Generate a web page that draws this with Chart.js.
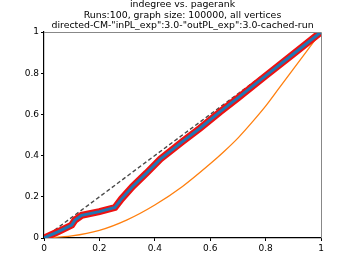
<!DOCTYPE html>
<html lang="en">
<head>
    <meta charset="UTF-8">
    <title>indegree vs. pagerank</title>
    <script src="https://cdn.jsdelivr.net/npm/chart.js"></script>
    <style>
        body { margin: 0; background: #fff; }
        #wrap { width: 357px; height: 268px; }
    </style>
</head>
<body>
    <div id="wrap"><canvas id="c"></canvas></div>
    <script>
        // values
        const titleLines = [
            "indegree vs. pagerank",
            "Runs:100, graph size: 100000, all vertices",
            "directed-CM-\"inPL_exp\":3.0-\"outPL_exp\":3.0-cached-run"
        ];
        const diagX = [0, 1];
        const diagY = [0, 1];
        const bandX = [0, 0.05, 0.1, 0.112, 0.136, 0.2, 0.256, 0.28, 0.32, 0.37, 0.42, 0.5, 0.563, 0.635, 0.7, 0.8, 0.9, 1];
        const bandY = [0, 0.03, 0.063, 0.087, 0.11, 0.128, 0.148, 0.19, 0.25, 0.315, 0.383, 0.468, 0.533, 0.612, 0.68, 0.787, 0.893, 1];
        const orangeX = [0, 0.1, 0.2, 0.3, 0.4, 0.5, 0.6, 0.65, 0.7, 0.75, 0.8, 0.85, 0.9, 0.95, 1];
        const orangeY = [0, 0.01, 0.037, 0.088, 0.16, 0.25, 0.36, 0.42, 0.485, 0.56, 0.64, 0.73, 0.82, 0.91, 1];
        const tickVals = [0, 0.2, 0.4, 0.6, 0.8, 1];
        const tickLabels = ["0", "0.2", "0.4", "0.6", "0.8", "1"];

        const pts = (xs, ys) => xs.map((x, i) => ({ x: x, y: ys[i] }));

        const frame = {
            id: "frame",
            afterDraw(chart) {
                const { ctx, chartArea: a } = chart;
                ctx.save();
                ctx.strokeStyle = "#888";
                ctx.lineWidth = 1;
                ctx.beginPath();
                ctx.moveTo(a.left, a.top + 0.5);
                ctx.lineTo(a.right + 0.5, a.top + 0.5);
                ctx.lineTo(a.right + 0.5, a.bottom);
                ctx.stroke();
                ctx.fillStyle = "#000";
                ctx.font = "9.4px 'DejaVu Sans'";
                ctx.textAlign = "center";
                ctx.textBaseline = "middle";
                const cx = (a.left + a.right) / 2;
                titleLines.forEach((t, i) => ctx.fillText(t, cx, 5 + i * 10.4));
                ctx.restore();
            }
        };

        const axisCommon = {
            type: "linear",
            min: 0,
            max: 1,
            afterBuildTicks: s => { s.ticks = tickVals.map(v => ({ value: v })); },
            ticks: {
                color: "#000",
                font: { family: "DejaVu Sans", size: 9 },
                padding: 2,
                callback: v => tickLabels[tickVals.indexOf(v)]
            },
            grid: { display: true, drawOnChartArea: false, drawTicks: true, tickLength: 3, color: "#000" },
            border: { display: true, color: "#000", width: 1.2 }
        };

        new Chart(document.getElementById("c"), {
            type: "line",
            data: {
                datasets: [
                    {
                        data: pts(diagX, diagY),
                        borderColor: "#4a4a4a",
                        borderWidth: 1.4,
                        borderDash: [4, 2.5],
                        pointRadius: 0,
                        order: 3
                    },
                    {
                        data: pts(orangeX, orangeY),
                        borderColor: "#ff7f0e",
                        borderWidth: 1.3,
                        pointRadius: 0,
                        cubicInterpolationMode: "monotone",
                        order: 2
                    },
                    {
                        data: pts(bandX, bandY),
                        borderColor: "#ee1111",
                        borderWidth: 7,
                        pointRadius: 0,
                        order: 1
                    },
                    {
                        data: pts(bandX, bandY),
                        borderColor: "#1f77b4",
                        borderWidth: 3,
                        pointRadius: 0,
                        order: 0
                    }
                ]
            },
            options: {
                responsive: true,
                maintainAspectRatio: false,
                animation: false,
                parsing: false,
                layout: { padding: { top: 32, right: 36, left: 0, bottom: 0 } },
                plugins: { legend: { display: false }, tooltip: { enabled: false } },
                scales: {
                    x: Object.assign({}, axisCommon, {
                        afterFit: s => { s.height = 30; }
                    }),
                    y: Object.assign({}, axisCommon, {
                        afterFit: s => { s.width = 44; }
                    })
                }
            },
            plugins: [frame]
        });
    </script>
</body>
</html>
